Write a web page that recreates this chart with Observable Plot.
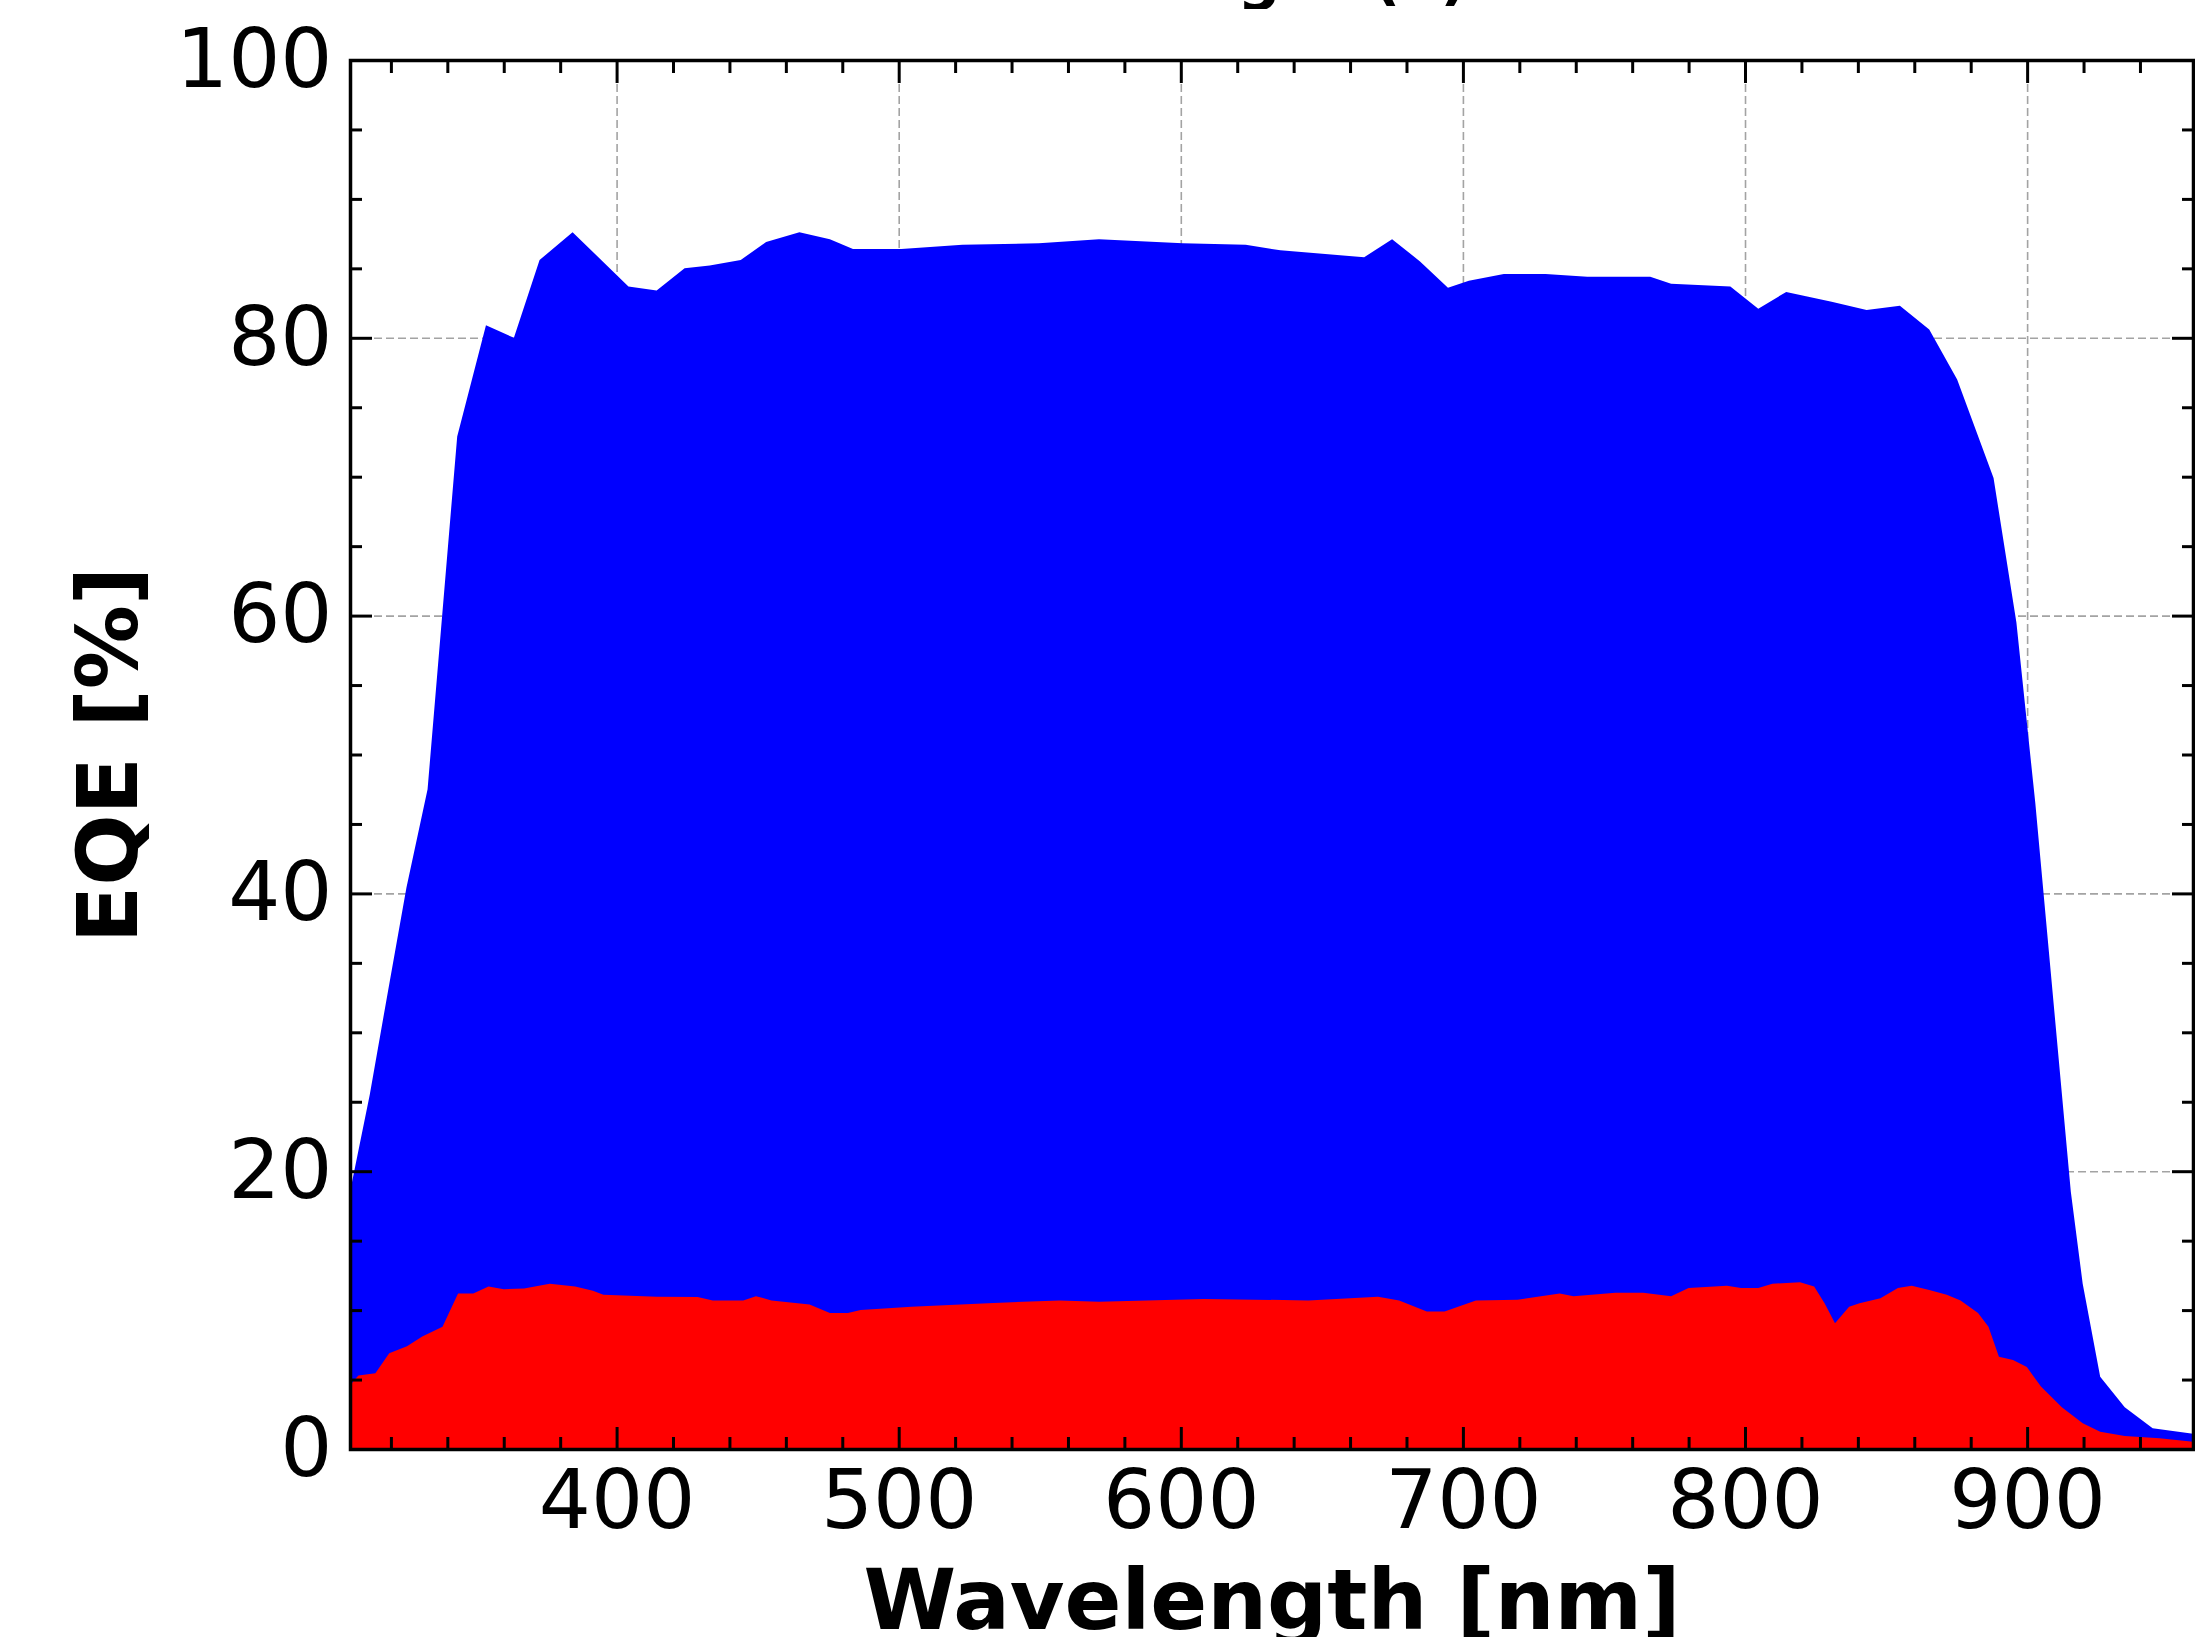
<!DOCTYPE html>
<html>
<head>
<meta charset="utf-8">
<script src="https://cdn.jsdelivr.net/npm/d3@7"></script>
<script src="https://cdn.jsdelivr.net/npm/@observablehq/plot@0.6"></script>
<style>
  html, body { margin: 0; padding: 0; background: #fff; overflow: hidden; }
  #wrap { position: relative; width: 2195px; height: 1637px; }
  #title { position: absolute; left: 0; top: 0; width: 2195px; height: 9px; overflow: hidden; z-index: 2; }
  #title span { position: absolute; right: 727px; top: -58px; line-height: 60px; white-space: nowrap;
    font: bold 60px "DejaVu Sans"; color: #000; }
  #chart { position: absolute; left: 0; top: 0; }
</style>
</head>
<body>
<div id="wrap">
  <div id="title"><span>Wavelength (a)</span></div>
  <div id="chart"></div>
</div>
<script>
// ---- data ----
const blueWl = [305.5, 312.5, 319, 325.5, 333, 343.5, 353.7, 363.6, 372.7, 384.4, 404.2, 414.2, 424.1, 433, 444, 453, 464.8, 475.6, 483.8, 500.9, 522.6, 549.7, 571, 600.7, 623, 635.3, 665, 674.9, 684.8, 694.7, 702.1, 714.5, 729.3, 744.1, 766.4, 773.8, 794.8, 804.7, 814.6, 830.7, 843.1, 854.9, 865.3, 875.2, 888.1, 896.2, 902.9, 915.5, 919.7, 925.9, 934.6, 944.5, 958.8];
const blueEqe = [18.5, 25.5, 33.0, 40.4, 47.5, 72.9, 80.9, 80.0, 85.6, 87.6, 83.7, 83.4, 85.0, 85.2, 85.6, 86.9, 87.6, 87.1, 86.4, 86.4, 86.7, 86.8, 87.1, 86.8, 86.7, 86.3, 85.8, 87.1, 85.5, 83.6, 84.1, 84.6, 84.6, 84.4, 84.4, 83.9, 83.7, 82.1, 83.3, 82.6, 82.0, 82.3, 80.6, 77.0, 69.9, 59.5, 46.5, 18.5, 11.9, 5.2, 3.0, 1.5, 1.1];

const redWl = [305.5, 306.7, 308.5, 314.5, 319.4, 325.7, 331.1, 338.3, 343.8, 349.2, 354.6, 360, 367.2, 376.3, 385.3, 391.6, 395.3, 414.2, 428.7, 434.1, 444.9, 449.4, 454.9, 468.4, 475.6, 482, 486.5, 504.5, 531.7, 557, 571, 608.1, 645.2, 669.9, 677.4, 687.2, 693.5, 704.6, 719.4, 734.3, 739.2, 754.1, 763.9, 773.8, 780, 793.6, 798.6, 804.7, 809.7, 819.5, 824.5, 828.2, 831.9, 836.9, 840.6, 848, 854.2, 859.1, 865.3, 871.5, 876.4, 882.6, 886.3, 890, 895, 899.9, 904.9, 912.3, 919.7, 925.9, 934.6, 946.9, 958.8];
const redEqe = [4.5, 4.9, 5.3, 5.45, 6.9, 7.4, 8.1, 8.8, 11.2, 11.2, 11.7, 11.5, 11.55, 11.9, 11.7, 11.4, 11.1, 10.96, 10.95, 10.7, 10.7, 11.0, 10.7, 10.4, 9.8, 9.8, 10.0, 10.25, 10.5, 10.7, 10.6, 10.8, 10.7, 10.96, 10.7, 9.9, 9.9, 10.7, 10.75, 11.2, 11.0, 11.25, 11.25, 11.0, 11.6, 11.75, 11.6, 11.6, 11.9, 12.0, 11.7, 10.5, 9.05, 10.25, 10.5, 10.85, 11.6, 11.75, 11.45, 11.1, 10.7, 9.8, 8.8, 6.65, 6.4, 5.9, 4.5, 3.0, 1.85, 1.25, 0.94, 0.77, 0.53];

const xMajorTicks = [400, 500, 600, 700, 800, 900];
const xMinorTicks = [320, 340, 360, 380, 420, 440, 460, 480, 520, 540, 560, 580, 620, 640, 660, 680, 720, 740, 760, 780, 820, 840, 860, 880, 920, 940];
const yMajorTicks = [0, 20, 40, 60, 80, 100];
const yMinorTicks = [5, 10, 15, 25, 30, 35, 45, 50, 55, 65, 70, 75, 85, 90, 95];
const xDomain = [305.5, 958.8];
const yDomain = [0, 100];
const xLabel = "Wavelength [nm]";
const yLabel = "EQE [%]";

// ---- tables ----
const blue = blueWl.map((wl, i) => ({wl, eqe: blueEqe[i]}));
const red = redWl.map((wl, i) => ({wl, eqe: redEqe[i]}));

const gridStyle = {stroke: "#a3a3a3", strokeOpacity: 1, strokeWidth: 1.6, strokeDasharray: "8,4"};
const none = () => "";
const tickW = 3;
const tickFont = 82;
const labelFont = 84;

const chart = Plot.plot({
  width: 2195,
  height: 1637,
  marginLeft: 350,
  marginRight: 2,
  marginTop: 60,
  marginBottom: 188,
  style: {fontFamily: "DejaVu Sans", fontSize: tickFont + "px", color: "black", background: "white"},
  x: {domain: xDomain, label: null},
  y: {domain: yDomain, label: null},
  marks: [
    Plot.gridX(xMajorTicks, gridStyle),
    Plot.gridY(yMajorTicks.filter(d => d > 0 && d < 100), gridStyle),
    Plot.areaY(blue, {x: "wl", y: "eqe", fill: "#0000ff", curve: "linear"}),
    Plot.areaY(red, {x: "wl", y: "eqe", fill: "#ff0000", curve: "linear"}),
    // major ticks (inward) with labels
    Plot.axisX(xMajorTicks, {anchor: "bottom", tickSize: -22, tickPadding: 42, strokeWidth: tickW, fontSize: tickFont, label: null}),
    Plot.axisX(xMajorTicks, {anchor: "top", tickSize: -22, strokeWidth: tickW, tickFormat: none, label: null}),
    Plot.axisY(yMajorTicks, {anchor: "left", tickSize: -22, tickPadding: 40, strokeWidth: tickW, fontSize: tickFont, label: null}),
    Plot.axisY(yMajorTicks, {anchor: "right", tickSize: -22, strokeWidth: tickW, tickFormat: none, label: null}),
    // minor ticks (inward)
    Plot.axisX(xMinorTicks, {anchor: "bottom", tickSize: -12, strokeWidth: tickW, tickFormat: none, label: null}),
    Plot.axisX(xMinorTicks, {anchor: "top", tickSize: -12, strokeWidth: tickW, tickFormat: none, label: null}),
    Plot.axisY(yMinorTicks, {anchor: "left", tickSize: -12, strokeWidth: tickW, tickFormat: none, label: null}),
    Plot.axisY(yMinorTicks, {anchor: "right", tickSize: -12, strokeWidth: tickW, tickFormat: none, label: null}),
    Plot.frame({stroke: "black", strokeWidth: 3.5}),
    // axis titles
    Plot.text([xLabel], {text: d => d, frameAnchor: "bottom", textAnchor: "middle", lineAnchor: "bottom", dy: 179, fontSize: labelFont, fontWeight: "bold", fill: "black"}),
    Plot.text([yLabel], {text: d => d, frameAnchor: "left", textAnchor: "middle", rotate: -90, lineAnchor: "bottom", dx: -214, fontSize: labelFont, fontWeight: "bold", fill: "black"})
  ]
});
document.getElementById("chart").appendChild(chart);
</script>
</body>
</html>
